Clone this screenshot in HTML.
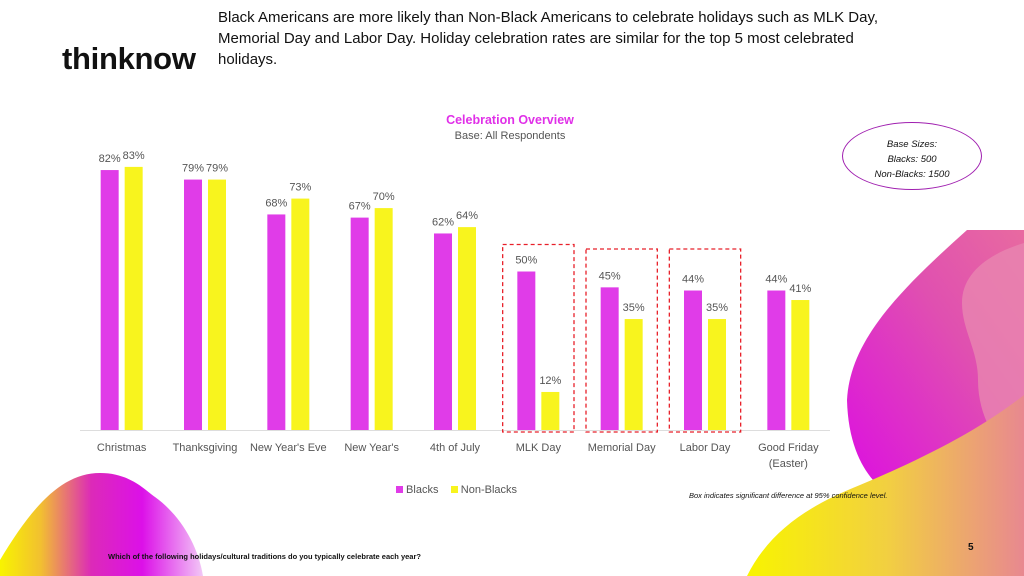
<!DOCTYPE html>
<html><head><meta charset="utf-8"><style>
body{margin:0;width:1024px;height:576px;overflow:hidden;background:#fff;font-family:"Liberation Sans",sans-serif;position:relative}
.abs{position:absolute}
</style></head><body>
<svg class="abs" style="left:0;top:0" width="1024" height="576">
<defs>
<linearGradient id="gl" x1="0" y1="0" x2="1" y2="0"><stop offset="0" stop-color="#f8f400"/><stop offset="0.2" stop-color="#f2c030"/><stop offset="0.45" stop-color="#dc2ab8"/><stop offset="0.7" stop-color="#dc10e8"/><stop offset="1" stop-color="#f2c8f6"/></linearGradient>
<linearGradient id="gr" x1="0" y1="1" x2="1" y2="0"><stop offset="0" stop-color="#dc10e0"/><stop offset="0.6" stop-color="#e050b0"/><stop offset="1" stop-color="#e86aa0"/></linearGradient>
<linearGradient id="gy" x1="0" y1="0" x2="1" y2="0"><stop offset="0" stop-color="#f8f400"/><stop offset="0.5" stop-color="#f2d040"/><stop offset="1" stop-color="#e88890"/></linearGradient>
</defs>
<path d="M0,560 C30,510 60,473 100,473 C130,473 145,490 155,497 C180,515 198,545 203,576 L0,576 Z" fill="url(#gl)"/>
<path d="M967,230 C900,290 850,340 847,400 C848,440 860,465 873,480 L1024,480 L1024,230 Z" fill="url(#gr)"/>
<path d="M1024,243 C985,255 962,275 962,303 C962,330 978,350 978,380 C978,420 1000,450 1024,470 Z" fill="#e886b0" opacity="0.8"/>
<path d="M747,576 C770,530 810,505 860,485 C920,460 980,430 1024,395 L1024,576 Z" fill="url(#gy)"/>
</svg>
<div class="abs" style="left:62px;top:41px;font-size:31px;font-weight:bold;letter-spacing:-0.3px;color:#111">thinknow</div>
<div class="abs" style="left:218px;top:7px;width:690px;font-size:15px;line-height:21px;color:#111">Black Americans are more likely than Non-Black Americans to celebrate holidays such as MLK Day, Memorial Day and Labor Day. Holiday celebration rates are similar for the top 5 most celebrated holidays.</div>
<div class="abs" style="left:400px;top:113px;width:220px;text-align:center;font-size:12.5px;font-weight:bold;color:#e030e8">Celebration Overview</div>
<div class="abs" style="left:400px;top:130px;width:220px;text-align:center;font-size:11px;color:#555">Base: All Respondents</div>
<div class="abs" style="left:842px;top:122px;width:140px;height:68px;border:1.5px solid #a020b0;border-radius:50%;text-align:center;font-size:9.5px;font-style:italic;line-height:15px;box-sizing:border-box;padding-top:14px;color:#111">Base Sizes:<br>Blacks: 500<br>Non-Blacks: 1500</div>
<svg id="chart" class="abs" style="left:0;top:0" width="1024" height="576"></svg>
<div class="abs" style="left:396px;top:484px;font-size:11px;color:#555">
<span><span style="display:inline-block;width:7px;height:7px;background:#e03ce8"></span> Blacks</span>&nbsp;&nbsp;&nbsp;
<span><span style="display:inline-block;width:7px;height:7px;background:#f8f41e"></span> Non-Blacks</span></div>
<div class="abs" style="left:689px;top:491px;font-size:7.5px;font-style:italic;color:#111">Box indicates significant difference at 95% confidence level.</div>
<div class="abs" style="left:108px;top:552px;font-size:7.5px;font-weight:bold;color:#111">Which of the following holidays/cultural traditions do you typically celebrate each year?</div>
<div class="abs" style="left:968px;top:542px;font-size:10px;font-weight:bold;color:#111">5</div>
<script>
const categories=["Christmas","Thanksgiving","New Year's Eve","New Year's","4th of July","MLK Day","Memorial Day","Labor Day","Good Friday|(Easter)"];
const blacks=[82,79,68,67,62,50,45,44,44];
const nonBlacks=[83,79,73,70,64,12,35,35,41];
const significant=[5,6,7];
const svg=document.getElementById('chart');
const NS='http://www.w3.org/2000/svg';
const x0=80,plotW=750,base=430,pxPer=3.17,bw=18,gap=6;
const step=plotW/categories.length;
const y=v=>base-v*pxPer;
const cx=i=>x0+step*(i+0.5);
function el(t,a){const e=document.createElementNS(NS,t);for(const k in a)e.setAttribute(k,a[k]);svg.appendChild(e);return e;}
const ax=el('line',{x1:x0,x2:x0+plotW,y1:base+0.5,y2:base+0.5,stroke:'#ddd'});


categories.forEach((c,i)=>{
  const m=cx(i);
  const b=el('rect',{x:m-gap/2-bw,y:y(blacks[i]),width:bw,height:blacks[i]*pxPer,fill:'#e03ce8'});
  
  
  const n=el('rect',{x:m+gap/2,y:y(nonBlacks[i]),width:bw,height:nonBlacks[i]*pxPer,fill:'#f8f41e'});
  
  
  const lb=el('text',{x:m-gap/2-bw/2,y:y(blacks[i])-8,'text-anchor':'middle','font-size':11,fill:'#555','font-family':'Liberation Sans'});
  lb.textContent=blacks[i]+'%';
  
  
  const ln=el('text',{x:m+gap/2+bw/2,y:y(nonBlacks[i])-8,'text-anchor':'middle','font-size':11,fill:'#555','font-family':'Liberation Sans'});
  ln.textContent=nonBlacks[i]+'%';
  
  
  c.split('|').forEach((p,j)=>{
    const t=el('text',{x:m,y:451+j*16,'text-anchor':'middle','font-size':11,fill:'#555','font-family':'Liberation Sans'});
    t.textContent=p;
    
    
  });
});
significant.forEach(i=>{
  const m=cx(i);const top=Math.min(Math.min(y(blacks[i]),y(nonBlacks[i]))-27,249);
  const w=step-12;
  const r=el('rect',{x:m-w/2,y:top,width:w,height:base+2-top,fill:'none',stroke:'#e8202a','stroke-width':1.3,'stroke-dasharray':'4,3'});
  
  
});
</script>
</body></html>
